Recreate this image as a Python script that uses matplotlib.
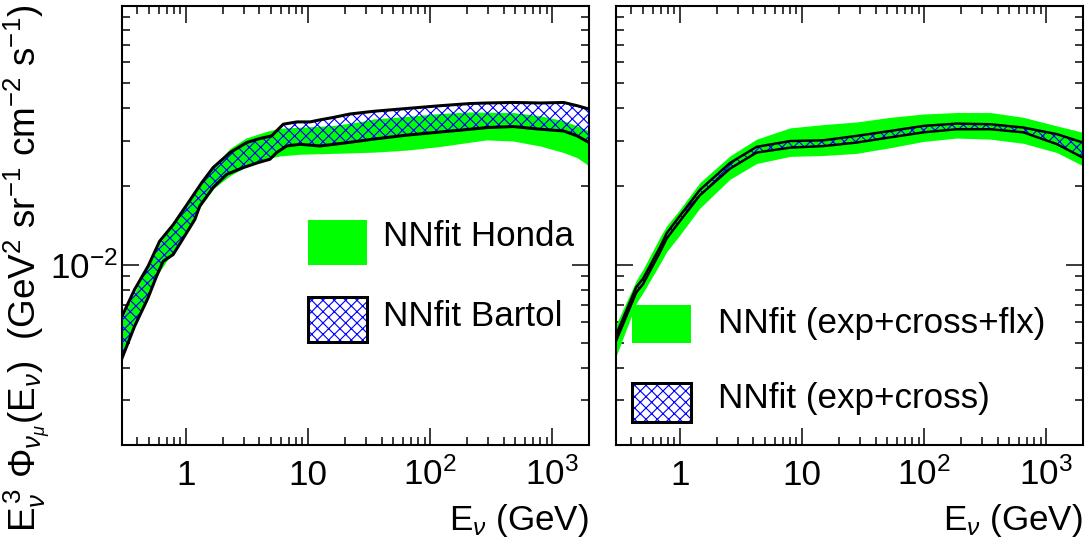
import numpy as np
import matplotlib
matplotlib.use("Agg")
import matplotlib.pyplot as plt
from matplotlib.patches import Rectangle
from matplotlib.ticker import LogLocator, NullFormatter

plt.rcParams['font.family'] = ['Liberation Sans', 'DejaVu Sans']
plt.rcParams['mathtext.fontset'] = 'custom'
plt.rcParams['mathtext.rm'] = 'Liberation Sans'
plt.rcParams['mathtext.it'] = 'Liberation Sans:italic'
plt.rcParams['mathtext.bf'] = 'Liberation Sans:bold'
plt.rcParams['hatch.linewidth'] = 0.6

# ---- left panel: NNfit Honda (green band) ----
honda_E = [0.3, 0.4, 0.5, 0.6, 0.8, 1.0, 1.35, 1.7, 2.3, 3.1, 4.6, 5.9, 8.6, 16,
           27, 35, 65, 121, 213, 290, 480, 800, 1240, 1600, 2000]
honda_lo = [0.0045, 0.0061, 0.0077, 0.0093, 0.0114, 0.0133, 0.0170, 0.0197, 0.0220,
            0.0238, 0.0256, 0.0262, 0.0266, 0.0268, 0.0270, 0.0271, 0.0276, 0.0285,
            0.0296, 0.0302, 0.0299, 0.0286, 0.0270, 0.0258, 0.0240]
honda_hi = [0.0062, 0.0082, 0.0100, 0.0119, 0.0145, 0.0168, 0.0205, 0.0238, 0.0280,
            0.0307, 0.0326, 0.0335, 0.0338, 0.0343, 0.0355, 0.0364, 0.0372, 0.0382,
            0.0387, 0.0386, 0.0385, 0.0374, 0.0358, 0.0342, 0.0327]

# ---- left panel: NNfit Bartol (hatched band) ----
bartol_E_hi = [0.3, 0.38, 0.49, 0.61, 0.79, 0.98, 1.35, 1.67, 2.3, 3.15, 4.04, 5.04,
               5.9, 6.27, 8.1, 10.4, 12.5, 16.1, 22, 34, 64, 121, 213, 292, 480,
               800, 1240, 1600, 2000]
bartol_hi = [0.00632, 0.00801, 0.00985, 0.0123, 0.01427, 0.01655, 0.02067, 0.02362,
             0.0270, 0.02951, 0.03058, 0.0313, 0.03372, 0.03471, 0.03543, 0.03543,
             0.03607, 0.03685, 0.0380, 0.0389, 0.0399, 0.0409, 0.0417, 0.0419,
             0.0421, 0.0419, 0.0421, 0.0409, 0.0397]
bartol_E_lo = [0.3, 0.38, 0.49, 0.575, 0.652, 0.787, 0.92, 1.185, 1.30, 1.67, 2.16,
               2.95, 3.91, 4.88, 5.54, 6.69, 8.6, 12.5, 18.3, 26.7, 34, 64, 121,
               213, 292, 480, 800, 1240, 1600, 2000]
bartol_lo = [0.00436, 0.00578, 0.00744, 0.00901, 0.0103, 0.01093, 0.0123, 0.01492,
             0.01679, 0.01978, 0.02226, 0.02362, 0.0247, 0.02544, 0.0270, 0.02862,
             0.02906, 0.02862, 0.02924, 0.02993, 0.0304, 0.0315, 0.0324, 0.0332,
             0.0337, 0.0340, 0.0332, 0.0327, 0.0313, 0.0295]

# ---- right panel ----
right_E = [0.3, 0.44, 0.5, 0.69, 0.78, 1.0, 1.46, 2.57, 4.25, 8, 15, 28, 53, 99,
           185, 350, 650, 1220, 2000]
flx_lo = [0.00443, 0.0071, 0.0078, 0.0101, 0.0112, 0.0130, 0.0165, 0.0213, 0.0245,
          0.0261, 0.0263, 0.0268, 0.0282, 0.0298, 0.0307, 0.0304, 0.0293, 0.0270,
          0.0240]
flx_hi = [0.00587, 0.0087, 0.0096, 0.0128, 0.0141, 0.0163, 0.0207, 0.0262, 0.0304,
          0.0336, 0.0346, 0.0354, 0.0369, 0.0380, 0.0385, 0.0385, 0.0369, 0.0342,
          0.0323]
cross_lo = [0.00508, 0.00782, 0.00842, 0.0112, 0.0126, 0.0147, 0.0185, 0.0234, 0.0270,
            0.0282, 0.0286, 0.0295, 0.0309, 0.0323, 0.0332, 0.0332, 0.0323, 0.0291,
            0.0258]
cross_hi = [0.00535, 0.00820, 0.00883, 0.0117, 0.0132, 0.0154, 0.0194, 0.0246, 0.0284,
            0.0299, 0.0301, 0.0313, 0.0327, 0.0342, 0.0349, 0.0347, 0.0337, 0.0318,
            0.0295]

xticks = [1, 10, 100, 1000]
xticklabels = ['1', '10', '$10^{2}$', '$10^{3}$']

GREEN = '#00ff00'
BLUE = '#0000ff'
FS = 18.5
HATCH = 'xxxx'

fig = plt.figure(figsize=(8.0, 549 / 136), dpi=136)
ax1 = fig.add_axes([122 / 1088, 1 - 445 / 549, 467 / 1088, 439 / 549])
ax2 = fig.add_axes([616 / 1088, 1 - 445 / 549, 467 / 1088, 439 / 549])


def hatched_band(ax, e_hi, hi, e_lo, lo, lw):
    xs = np.concatenate([e_hi, e_lo[::-1]])
    ys = np.concatenate([hi, lo[::-1]])
    ax.fill(xs, ys, facecolor='none', edgecolor=BLUE, lw=0, hatch=HATCH, zorder=3)
    ax.plot(e_hi, hi, color='k', lw=lw, zorder=4, solid_joinstyle='round')
    ax.plot(e_lo, lo, color='k', lw=lw, zorder=4, solid_joinstyle='round')


ax1.fill_between(honda_E, honda_lo, honda_hi, color=GREEN, lw=0, zorder=2)
hatched_band(ax1, np.array(bartol_E_hi), np.array(bartol_hi),
             np.array(bartol_E_lo), np.array(bartol_lo), 1.6)

ax2.fill_between(right_E, flx_lo, flx_hi, color=GREEN, lw=0, zorder=2)
hatched_band(ax2, np.array(right_E), np.array(cross_hi),
             np.array(right_E), np.array(cross_lo), 1.3)

for ax in (ax1, ax2):
    ax.set_xscale('log')
    ax.set_yscale('log')
    ax.set_xlim(0.3, 2000)
    ax.set_ylim(0.00202, 0.099)
    ax.set_xticks(xticks)
    ax.set_xticklabels(xticklabels)
    ax.xaxis.set_minor_locator(LogLocator(base=10, subs=np.arange(2, 10), numticks=30))
    ax.xaxis.set_minor_formatter(NullFormatter())
    ax.set_yticks([0.01])
    ax.yaxis.set_minor_locator(LogLocator(base=10, subs=np.arange(2, 10), numticks=30))
    ax.yaxis.set_minor_formatter(NullFormatter())
    ax.tick_params(which='both', direction='in', top=True, right=True, width=0.8)
    ax.tick_params(which='major', length=9)
    ax.tick_params(which='minor', length=4.3)
    ax.tick_params(axis='x', which='major', labelsize=FS, pad=21)
    for lab in ax.get_xticklabels():
        lab.set_verticalalignment('baseline')
    for sp in ax.spines.values():
        sp.set_linewidth(1.1)
    ax.text(1.0, -0.171, r'$\mathrm{E}_{\nu}$ (GeV)', transform=ax.transAxes,
            ha='right', va='center', fontsize=FS)

ax1.set_yticklabels(['$10^{-2}$'])
ax1.tick_params(axis='y', which='major', labelsize=FS, pad=2)
ax2.set_yticklabels([])

fig.text(27 / 1088, 1 - 268 / 549,
         r'$\mathrm{E}_{\nu}^{\,3}\ \Phi_{\nu_{\mu}}(\mathrm{E}_{\nu})\ \ '
         r'(\mathrm{GeV}^{2}\ \mathrm{sr}^{-1}\ \mathrm{cm}^{-2}\ \mathrm{s}^{-1})$',
         rotation=90, ha='center', va='center', fontsize=19.5)

# legends
ax1.add_patch(Rectangle((0.398, 0.410), 0.1263, 0.1025, transform=ax1.transAxes,
                        facecolor=GREEN, lw=0, zorder=5))
ax1.add_patch(Rectangle((0.398, 0.2346), 0.1263, 0.1025, transform=ax1.transAxes,
                        facecolor='white', edgecolor=BLUE, lw=0, hatch=HATCH, zorder=5))
ax1.add_patch(Rectangle((0.398, 0.2346), 0.1263, 0.1025, transform=ax1.transAxes,
                        fill=False, edgecolor='k', lw=1.6, zorder=6))
ax1.text(0.559, 0.454, 'NNfit Honda', transform=ax1.transAxes, fontsize=FS,
         va='baseline', ha='left')
ax1.text(0.559, 0.271, 'NNfit Bartol', transform=ax1.transAxes, fontsize=FS,
         va='baseline', ha='left')

ax2.add_patch(Rectangle((0.0336, 0.2317), 0.127, 0.0872, transform=ax2.transAxes,
                        facecolor=GREEN, lw=0, zorder=5))
ax2.add_patch(Rectangle((0.0336, 0.0531), 0.127, 0.0888, transform=ax2.transAxes,
                        facecolor='white', edgecolor=BLUE, lw=0, hatch=HATCH, zorder=5))
ax2.add_patch(Rectangle((0.0336, 0.0531), 0.127, 0.0888, transform=ax2.transAxes,
                        fill=False, edgecolor='k', lw=1.6, zorder=6))
ax2.text(0.2184, 0.2551, 'NNfit (exp+cross+flx)', transform=ax2.transAxes, fontsize=FS,
         va='baseline', ha='left')
ax2.text(0.2184, 0.0843, 'NNfit (exp+cross)', transform=ax2.transAxes, fontsize=FS,
         va='baseline', ha='left')

fig.savefig('out.png', dpi=136)
